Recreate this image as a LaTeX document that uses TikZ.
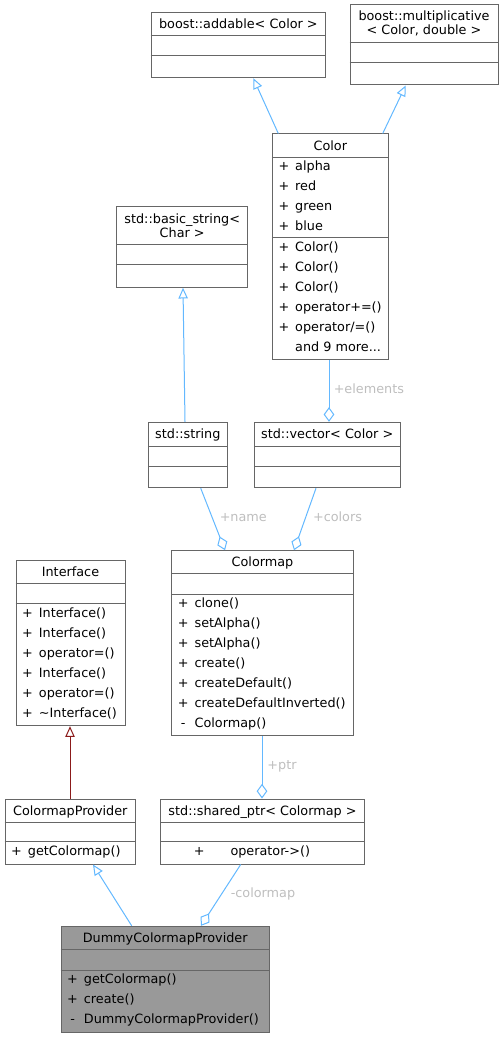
\documentclass[tikz,border=0pt]{standalone}
\usepackage{fontspec}
\setmainfont{DejaVu Sans}
\usetikzlibrary{arrows.meta,fit}

\definecolor{edgeblue}{HTML}{63B8FF}
\definecolor{boxgray}{HTML}{666666}
\definecolor{lblgray}{HTML}{BEBEBE}
\definecolor{inhred}{HTML}{8B1A1A}
\definecolor{curfill}{HTML}{999999}

% one member row: visibility mark, then name
\newcommand{\mb}[2]{\makebox[12.5pt][l]{\makebox[8pt][c]{#1}}#2}

\tikzset{
    cls/.style={draw=boxgray, fill=white, line width=0.75pt, inner sep=0pt},
    sepline/.style={draw=boxgray, line width=0.75pt},
    ttl/.style={font=\fontsize{9.6}{10.5}\selectfont, inner sep=0pt, align=center, anchor=base},
    % anchored at the baseline of the last row
    mems/.style={font=\fontsize{9.6}{15}\selectfont, inner sep=0pt, align=left, anchor=base west},
    lbl/.style={font=\fontsize{9.6}{12}\selectfont, text=lblgray, inner sep=0pt, anchor=west,
        text height=7pt, text depth=2pt},
    inh/.style={draw=edgeblue, line width=0.75pt, -{Triangle[open,length=8pt,width=7pt]}},
    agg/.style={draw=edgeblue, line width=0.75pt, -{Diamond[open,length=11pt,width=8pt]}},
}

\begin{document}
\begin{tikzpicture}[x=0.75pt, y=-0.75pt]
    \useasboundingbox (0,0) rectangle (503,1037);

    % Base classes of Color
    \node[cls, fit={(151,12.7) (325.7,77.7)}] (addable) {};
    \draw[sepline] (addable.west |- 0,35.7) -- (addable.east |- 0,35.7);
    \draw[sepline] (addable.west |- 0,56) -- (addable.east |- 0,56);
    \node[ttl] (addable-t) at (238.4,29) {boost::addable< Color >};

    \node[cls, fit={(350,5) (498,85)}] (mult) {};
    \draw[sepline] (mult.west |- 0,42.3) -- (mult.east |- 0,42.3);
    \draw[sepline] (mult.west |- 0,62.3) -- (mult.east |- 0,62.3);
    \node[ttl, anchor=center] (mult-t) at (424,23.7) {boost::multiplicative\\< Color, double >};

    % Color
    \node[cls, fit={(272.3,134) (388.3,359.3)}] (color) {};
    \draw[sepline] (color.west |- 0,158) -- (color.east |- 0,158);
    \draw[sepline] (color.west |- 0,237.7) -- (color.east |- 0,237.7);
    \node[ttl] (color-t) at (330.3,150.7) {Color};
    \node[mems] (color-a) at (278.3,231) {\mb{+}{alpha}\\\mb{+}{red}\\\mb{+}{green}\\\mb{+}{blue}};
    \node[mems] (color-m) at (278.3,351.5) {\mb{+}{Color()}\\\mb{+}{Color()}\\\mb{+}{Color()}\\
        \mb{+}{operator+=()}\\\mb{+}{operator/=()}\\\mb{}{and 9 more...}};

    % Strings
    \node[cls, fit={(116.7,206.7) (247.7,287.3)}] (basicstr) {};
    \draw[sepline] (basicstr.west |- 0,244.3) -- (basicstr.east |- 0,244.3);
    \draw[sepline] (basicstr.west |- 0,265) -- (basicstr.east |- 0,265);
    \node[ttl, anchor=center] (basicstr-t) at (182.2,225.5) {std::basic\_string<\\Char >};

    \node[cls, fit={(148.3,422.3) (227.3,487.7)}] (string) {};
    \draw[sepline] (string.west |- 0,446) -- (string.east |- 0,446);
    \draw[sepline] (string.west |- 0,466) -- (string.east |- 0,466);
    \node[ttl] (string-t) at (187.8,438.9) {std::string};

    \node[cls, fit={(254.3,422.3) (400,487.7)}] (vector) {};
    \draw[sepline] (vector.west |- 0,446) -- (vector.east |- 0,446);
    \draw[sepline] (vector.west |- 0,466) -- (vector.east |- 0,466);
    \node[ttl] (vector-t) at (327.2,438.9) {std::vector< Color >};

    % Colormap
    \node[cls, fit={(171.7,550.7) (353.3,735.7)}] (colormap) {};
    \draw[sepline] (colormap.west |- 0,573.3) -- (colormap.east |- 0,573.3);
    \draw[sepline] (colormap.west |- 0,594) -- (colormap.east |- 0,594);
    \node[ttl] (colormap-t) at (262.5,566.7) {Colormap};
    \node[mems] (colormap-m) at (177.7,727) {\mb{+}{clone()}\\\mb{+}{setAlpha()}\\\mb{+}{setAlpha()}\\
        \mb{+}{create()}\\\mb{+}{createDefault()}\\\mb{+}{createDefaultInverted()}\\\mb{-}{Colormap()}};

    % Interface
    \node[cls, fit={(16,560.7) (125,725.7)}] (interface) {};
    \draw[sepline] (interface.west |- 0,583.3) -- (interface.east |- 0,583.3);
    \draw[sepline] (interface.west |- 0,603.3) -- (interface.east |- 0,603.3);
    \node[ttl] (interface-t) at (70.5,576.7) {Interface};
    \node[mems] (interface-m) at (22,717) {\mb{+}{Interface()}\\\mb{+}{Interface()}\\\mb{+}{operator=()}\\
        \mb{+}{Interface()}\\\mb{+}{operator=()}\\\mb{+}{\textasciitilde Interface()}};

    % ColormapProvider and shared_ptr
    \node[cls, fit={(5,799) (135.7,864)}] (provider) {};
    \draw[sepline] (provider.west |- 0,822.3) -- (provider.east |- 0,822.3);
    \draw[sepline] (provider.west |- 0,841.7) -- (provider.east |- 0,841.7);
    \node[ttl] (provider-t) at (70.3,815.4) {ColormapProvider};
    \node[mems] (provider-m) at (11,855) {\mb{+}{getColormap()}};

    \node[cls, fit={(160.7,799) (364.3,864)}] (sharedptr) {};
    \draw[sepline] (sharedptr.west |- 0,822.3) -- (sharedptr.east |- 0,822.3);
    \draw[sepline] (sharedptr.west |- 0,841.7) -- (sharedptr.east |- 0,841.7);
    \node[ttl] (sharedptr-t) at (262.5,815.4) {std::shared\_ptr< Colormap >};
    \node[mems] (sharedptr-m) at (193.7,855) {\makebox[27.4pt][l]{+}operator->()};

    % DummyColormapProvider
    \node[cls, fill=curfill, fit={(61,926.3) (269.3,1032.3)}] (dummy) {};
    \draw[sepline] (dummy.west |- 0,949.3) -- (dummy.east |- 0,949.3);
    \draw[sepline] (dummy.west |- 0,970) -- (dummy.east |- 0,970);
    \node[ttl] (dummy-t) at (165.2,942.5) {DummyColormapProvider};
    \node[mems] (dummy-m) at (67,1023) {\mb{+}{getColormap()}\\\mb{+}{create()}\\\mb{-}{DummyColormapProvider()}};

    % Inheritance
    \draw[inh] (color.north -| 278.3,0) -- (addable.south -| 253.3,0);
    \draw[inh] (color.north -| 382.7,0) -- (mult.south -| 405.7,0);
    \draw[inh] (string.north -| 185,0) -- (basicstr.south -| 183,0);
    \draw[inh, draw=inhred] (provider.north -| 70,0) -- (interface.south -| 70,0);
    \draw[inh] (dummy.north -| 131.7,0) -- (provider.south -| 93,0);

    % Members
    \draw[agg] (color.south -| 329,0) -- (vector.north -| 329,0);
    \draw[agg] (string.south -| 200.7,0) -- (colormap.north -| 225,0);
    \draw[agg] (vector.south -| 316,0) -- (colormap.north -| 294,0);
    \draw[agg] (colormap.south -| 262,0) -- (sharedptr.north -| 262,0);
    \draw[agg] (sharedptr.south -| 240.7,0) -- (dummy.north -| 201,0);

    \node[lbl] (lbl-elements) at (333.5,390) {+elements};
    \node[lbl] (lbl-name) at (219.5,518.3) {+name};
    \node[lbl] (lbl-colors) at (312.8,518.3) {+colors};
    \node[lbl] (lbl-ptr) at (267.2,766) {+ptr};
    \node[lbl] (lbl-colormap) at (230.5,894.3) {-colormap};
\end{tikzpicture}
\end{document}
